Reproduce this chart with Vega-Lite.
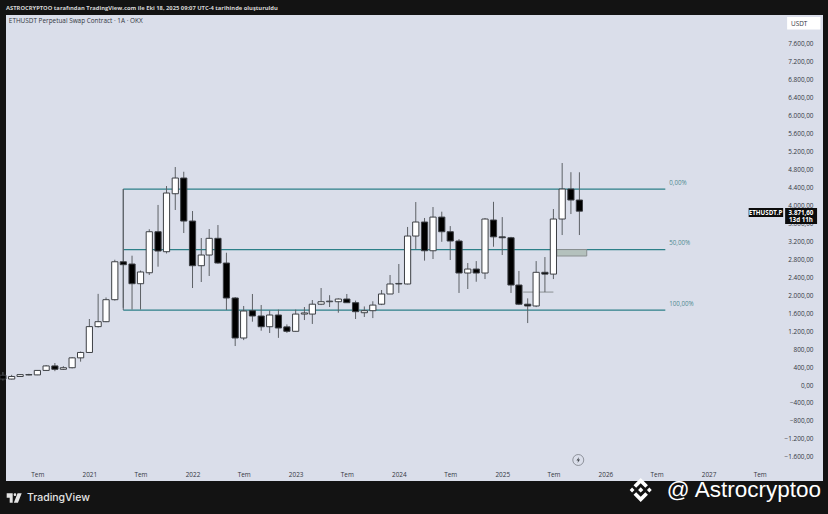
{
  "$schema": "https://vega.github.io/schema/vega-lite/v6.json",
  "width": 817,
  "height": 466,
  "autosize": "none",
  "padding": {"left": 6, "top": 15, "right": 5, "bottom": 33},
  "background": "#131313",
  "view": {"fill": "#dadeea", "stroke": null},
  "resolve": {"axis": {"y": "independent"}},
  "title": {
    "text": "ASTROCRYPTOO tarafından TradingView.com ile Eki 18, 2025 09:07 UTC-4 tarihinde oluşturuldu",
    "anchor": "start",
    "frame": "group",
    "offset": 4,
    "font": "Open Sans",
    "fontSize": 5.8,
    "fontWeight": "bold",
    "color": "#d6d6d6"
  },
  "datasets": {
    "candles": [
      {"date": "2020-03-01", "open": 218, "high": 290, "low": 100, "close": 133},
      {"date": "2020-04-01", "open": 133, "high": 227, "low": 125, "close": 190},
      {"date": "2020-05-01", "open": 190, "high": 245, "low": 185, "close": 231},
      {"date": "2020-06-01", "open": 231, "high": 250, "low": 215, "close": 225},
      {"date": "2020-07-01", "open": 225, "high": 330, "low": 220, "close": 325},
      {"date": "2020-08-01", "open": 325, "high": 445, "low": 320, "close": 425},
      {"date": "2020-09-01", "open": 425, "high": 490, "low": 308, "close": 350},
      {"date": "2020-10-01", "open": 350, "high": 420, "low": 335, "close": 385},
      {"date": "2020-11-01", "open": 385, "high": 622, "low": 370, "close": 605},
      {"date": "2020-12-01", "open": 605, "high": 745, "low": 520, "close": 725},
      {"date": "2021-01-01", "open": 725, "high": 1470, "low": 715, "close": 1300},
      {"date": "2021-02-01", "open": 1300, "high": 2030, "low": 1280, "close": 1410},
      {"date": "2021-03-01", "open": 1410, "high": 1950, "low": 1400, "close": 1900},
      {"date": "2021-04-01", "open": 1900, "high": 2790, "low": 1880, "close": 2745},
      {"date": "2021-05-01", "open": 2745, "high": 4365, "low": 1720, "close": 2680},
      {"date": "2021-06-01", "open": 2695, "high": 2880, "low": 1680, "close": 2256},
      {"date": "2021-07-01", "open": 2256, "high": 2550, "low": 1680, "close": 2517},
      {"date": "2021-08-01", "open": 2500, "high": 3470, "low": 2450, "close": 3414},
      {"date": "2021-09-01", "open": 3414, "high": 4010, "low": 2635, "close": 2984},
      {"date": "2021-10-01", "open": 2969, "high": 4432, "low": 2930, "close": 4276},
      {"date": "2021-11-01", "open": 4260, "high": 4855, "low": 3898, "close": 4610},
      {"date": "2021-12-01", "open": 4610, "high": 4750, "low": 3385, "close": 3652},
      {"date": "2022-01-01", "open": 3652, "high": 3875, "low": 2160, "close": 2657},
      {"date": "2022-02-01", "open": 2657, "high": 3274, "low": 2294, "close": 2895},
      {"date": "2022-03-01", "open": 2895, "high": 3474, "low": 2428, "close": 3267},
      {"date": "2022-04-01", "open": 3267, "high": 3563, "low": 2700, "close": 2717},
      {"date": "2022-05-01", "open": 2717, "high": 2946, "low": 1670, "close": 1938},
      {"date": "2022-06-01", "open": 1938, "high": 1960, "low": 868, "close": 1047},
      {"date": "2022-07-01", "open": 1047, "high": 1760, "low": 1000, "close": 1648},
      {"date": "2022-08-01", "open": 1655, "high": 2027, "low": 1410, "close": 1537},
      {"date": "2022-09-01", "open": 1537, "high": 1782, "low": 1209, "close": 1298},
      {"date": "2022-10-01", "open": 1298, "high": 1660, "low": 1158, "close": 1559},
      {"date": "2022-11-01", "open": 1559, "high": 1680, "low": 1050, "close": 1270},
      {"date": "2022-12-01", "open": 1295, "high": 1350, "low": 1160, "close": 1196},
      {"date": "2023-01-01", "open": 1196, "high": 1680, "low": 1190, "close": 1580},
      {"date": "2023-02-01", "open": 1580, "high": 1737, "low": 1447, "close": 1605},
      {"date": "2023-03-01", "open": 1580, "high": 1893, "low": 1360, "close": 1800},
      {"date": "2023-04-01", "open": 1800, "high": 2160, "low": 1780, "close": 1855},
      {"date": "2023-05-01", "open": 1855, "high": 2000, "low": 1737, "close": 1868},
      {"date": "2023-06-01", "open": 1855, "high": 1930, "low": 1610, "close": 1915},
      {"date": "2023-07-01", "open": 1915, "high": 2027, "low": 1833, "close": 1833},
      {"date": "2023-08-01", "open": 1833, "high": 1880, "low": 1470, "close": 1633},
      {"date": "2023-09-01", "open": 1610, "high": 1750, "low": 1515, "close": 1655},
      {"date": "2023-10-01", "open": 1655, "high": 1865, "low": 1490, "close": 1780},
      {"date": "2023-11-01", "open": 1800, "high": 2116, "low": 1780, "close": 2027},
      {"date": "2023-12-01", "open": 2027, "high": 2450, "low": 2027, "close": 2250},
      {"date": "2024-01-01", "open": 2250, "high": 2695, "low": 2050, "close": 2262},
      {"date": "2024-02-01", "open": 2250, "high": 3520, "low": 2240, "close": 3318},
      {"date": "2024-03-01", "open": 3318, "high": 4075, "low": 3030, "close": 3630},
      {"date": "2024-04-01", "open": 3630, "high": 3720, "low": 2770, "close": 2990},
      {"date": "2024-05-01", "open": 2990, "high": 3964, "low": 2806, "close": 3740},
      {"date": "2024-06-01", "open": 3740, "high": 3860, "low": 3190, "close": 3414},
      {"date": "2024-07-01", "open": 3414, "high": 3540, "low": 2784, "close": 3207},
      {"date": "2024-08-01", "open": 3207, "high": 3250, "low": 2050, "close": 2494},
      {"date": "2024-09-01", "open": 2494, "high": 2717, "low": 2138, "close": 2583},
      {"date": "2024-10-01", "open": 2583, "high": 2760, "low": 2300, "close": 2494},
      {"date": "2024-11-01", "open": 2494, "high": 3720, "low": 2360, "close": 3697},
      {"date": "2024-12-01", "open": 3675, "high": 4080, "low": 3080, "close": 3300},
      {"date": "2025-01-01", "open": 3300, "high": 3740, "low": 2895, "close": 3280},
      {"date": "2025-02-01", "open": 3280, "high": 3300, "low": 2050, "close": 2227},
      {"date": "2025-03-01", "open": 2227, "high": 2540, "low": 1780, "close": 1800},
      {"date": "2025-04-01", "open": 1800, "high": 1930, "low": 1380, "close": 1760},
      {"date": "2025-05-01", "open": 1760, "high": 2760, "low": 1735, "close": 2510},
      {"date": "2025-06-01", "open": 2510, "high": 2850, "low": 2070, "close": 2470},
      {"date": "2025-07-01", "open": 2470, "high": 3920, "low": 2360, "close": 3697},
      {"date": "2025-08-01", "open": 3697, "high": 4944, "low": 3340, "close": 4365},
      {"date": "2025-09-01", "open": 4365, "high": 4740, "low": 3808, "close": 4120},
      {"date": "2025-10-01", "open": 4120, "high": 4738, "low": 3340, "close": 3871.6}
    ]
  },
  "encoding": {
    "x": {
      "field": "date",
      "type": "temporal",
      "title": null,
      "scale": {"type": "utc", "domain": ["2020-03-12", "2028-02-10"], "padding": 0},
      "axis": {
        "values": ["2020-07-01", "2021-01-01", "2021-07-01", "2022-01-01", "2022-07-01", "2023-01-01", "2023-07-01", "2024-01-01", "2024-07-01", "2025-01-01", "2025-07-01", "2026-01-01", "2026-07-01", "2027-01-01", "2027-07-01"],
        "labelExpr": "utcmonth(datum.value) == 0 ? utcyear(datum.value) + '' : 'Tem'",
        "orient": "bottom",
        "offset": -10,
        "labelPadding": 0,
        "labelFont": "Open Sans",
        "labelFontSize": 6.4,
        "labelColor": "#33373f",
        "labelOverlap": false,
        "domain": false,
        "ticks": false,
        "grid": false
      }
    }
  },
  "layer": [
    {
      "data": {"values": [
        {"date": "2021-05-01", "end": "2026-08-01", "price": 4365},
        {"date": "2021-05-01", "end": "2026-08-01", "price": 3015},
        {"date": "2021-05-01", "end": "2026-08-01", "price": 1670}
      ]},
      "mark": {"type": "rule", "color": "#2c7f88", "strokeWidth": 1.3},
      "encoding": {
        "x2": {"field": "end"},
        "y": {
          "field": "price",
          "type": "quantitative",
          "title": null,
          "scale": {"domain": [-2138, 8241], "nice": false, "zero": false},
          "axis": {
            "values": [-1600, -1200, -800, -400, 0, 400, 800, 1200, 1600, 2000, 2400, 2800, 3200, 3600, 4000, 4400, 4800, 5200, 5600, 6000, 6400, 6800, 7200, 7600],
            "labelExpr": "replace(replace(replace(format(datum.value, ',.2f'), /,/g, '#'), '.', ','), /#/g, '.')",
            "orient": "right",
            "offset": -10,
            "labelPadding": 0,
            "labelAlign": "right",
            "labelFont": "Open Sans",
            "labelFontSize": 6.4,
            "labelColor": "#33373f",
            "labelOverlap": false,
            "domain": false,
            "ticks": false,
            "grid": false
          }
        }
      }
    },
    {
      "data": {"values": [{"date": "2021-05-01", "low": 1670, "high": 4365}]},
      "mark": {"type": "rule", "color": "#56606a", "strokeWidth": 1},
      "encoding": {
        "y": {"field": "low", "type": "quantitative", "axis": null},
        "y2": {"field": "high"}
      }
    },
    {
      "data": {"values": [{"date": "2025-03-16", "end": "2025-07-01", "price": 2070}]},
      "mark": {"type": "rule", "color": "#8b9094", "strokeWidth": 1},
      "encoding": {
        "x2": {"field": "end"},
        "y": {"field": "price", "type": "quantitative", "axis": null}
      }
    },
    {
      "data": {"values": [{"date": "2025-07-13", "end": "2025-10-27", "low": 2873, "high": 3017}]},
      "mark": {"type": "rect", "fill": "#b4c1bd", "stroke": "#8a8f90", "strokeWidth": 1},
      "encoding": {
        "x2": {"field": "end"},
        "y": {"field": "low", "type": "quantitative", "axis": null},
        "y2": {"field": "high"}
      }
    },
    {
      "data": {"name": "candles"},
      "mark": {"type": "rule", "color": "#5d6166", "strokeWidth": 1},
      "encoding": {
        "y": {"field": "low", "type": "quantitative", "axis": null},
        "y2": {"field": "high"}
      }
    },
    {
      "data": {"name": "candles"},
      "mark": {"type": "bar", "size": 6.2, "stroke": "#3c3f44", "strokeWidth": 1},
      "encoding": {
        "y": {"field": "open", "type": "quantitative", "axis": null},
        "y2": {"field": "close"},
        "fill": {
          "condition": {"test": "datum.close >= datum.open", "value": "#ffffff"},
          "value": "#000000"
        }
      }
    },
    {
      "data": {"values": [
        {"date": "2026-08-15", "price": 4500, "label": "0,00%"},
        {"date": "2026-08-15", "price": 3165, "label": "50,00%"},
        {"date": "2026-08-15", "price": 1800, "label": "100,00%"}
      ]},
      "mark": {"type": "text", "align": "left", "font": "Open Sans", "fontSize": 6.2, "color": "#4f8a90"},
      "encoding": {
        "y": {"field": "price", "type": "quantitative", "axis": null},
        "text": {"field": "label"}
      }
    },
    {
      "data": {"values": [
        {"date": "2027-05-23", "end": "2027-09-22", "low": 3742, "high": 3942},
        {"date": "2027-09-29", "end": "2028-01-20", "low": 3586, "high": 3942}
      ]},
      "mark": {"type": "rect", "fill": "#0c0c0c"},
      "encoding": {
        "x2": {"field": "end"},
        "y": {"field": "low", "type": "quantitative", "axis": null},
        "y2": {"field": "high"}
      }
    },
    {
      "data": {"values": [
        {"date": "2027-10-06", "end": "2028-02-01", "low": 7918, "high": 8196}
      ]},
      "mark": {"type": "rect", "fill": "#ffffff"},
      "encoding": {
        "x2": {"field": "end"},
        "y": {"field": "low", "type": "quantitative", "axis": null},
        "y2": {"field": "high"}
      }
    },
    {
      "data": {"values": [
        {"date": "2027-07-22", "price": 3842, "label": "ETHUSDT.P"},
        {"date": "2027-11-24", "price": 3842, "label": "3.871,60"},
        {"date": "2027-11-24", "price": 3675, "label": "13d 11h"}
      ]},
      "mark": {"type": "text", "font": "Open Sans", "fontSize": 6.2, "fontWeight": "bold", "color": "#ffffff"},
      "encoding": {
        "y": {"field": "price", "type": "quantitative", "axis": null},
        "text": {"field": "label"}
      }
    },
    {
      "data": {"values": [
        {"date": "2020-03-22", "price": 8105, "label": "ETHUSDT Perpetual Swap Contract · 1A · OKX"},
        {"date": "2027-10-20", "price": 8050, "label": "USDT"}
      ]},
      "mark": {"type": "text", "align": "left", "font": "Open Sans", "fontSize": 6.4, "color": "#33373f"},
      "encoding": {
        "y": {"field": "price", "type": "quantitative", "axis": null},
        "text": {"field": "label"}
      }
    },
    {
      "data": {"values": [{"date": "2025-09-27", "price": -1670}]},
      "mark": {"type": "point", "shape": "circle", "size": 120, "filled": false, "stroke": "#55595f", "strokeWidth": 0.8},
      "encoding": {"y": {"field": "price", "type": "quantitative", "axis": null}}
    },
    {
      "data": {"values": [{"date": "2025-09-27", "price": -1670}]},
      "mark": {"type": "point", "shape": "M0.25,-1 L-0.6,0.15 L-0.05,0.15 L-0.25,1 L0.6,-0.2 L0.05,-0.2 Z", "size": 36, "filled": true, "fill": "#44484e", "opacity": 1},
      "encoding": {"y": {"field": "price", "type": "quantitative", "axis": null}}
    },
    {
      "data": {"values": [{"date": "2020-04-10", "price": -2517}]},
      "mark": {"type": "point", "shape": "M-1,-0.62 H-0.2 V0.62 H-0.6 V-0.05 H-1 Z M0.45,-0.62 H1 L0.5,0.62 H-0.05 Z M0.1,-0.62 A0.17,0.17 0 1 1 0.0999,-0.62 Z", "size": 225, "filled": true, "fill": "#e4e4e4", "opacity": 1},
      "encoding": {"y": {"field": "price", "type": "quantitative", "axis": null}}
    },
    {
      "data": {"values": [{"date": "2020-05-25", "price": -2517, "label": "TradingView"}]},
      "mark": {"type": "text", "align": "left", "font": "Inter", "fontSize": 10.5, "fontWeight": 500, "color": "#e4e4e4"},
      "encoding": {
        "y": {"field": "price", "type": "quantitative", "axis": null},
        "text": {"field": "label"}
      }
    },
    {
      "data": {"values": [{"date": "2026-05-06", "price": -2338}]},
      "mark": {"type": "point", "shape": "M0,-1 L0.6,-0.4 L0.38,-0.18 L0,-0.56 L-0.38,-0.18 L-0.6,-0.4 Z M0,1 L0.6,0.4 L0.38,0.18 L0,0.56 L-0.38,0.18 L-0.6,0.4 Z M0,-0.22 L0.22,0 L0,0.22 L-0.22,0 Z M-0.72,-0.2 L-0.52,0 L-0.72,0.2 L-0.92,0 Z M0.72,-0.2 L0.92,0 L0.72,0.2 L0.52,0 Z", "size": 576, "filled": true, "fill": "#ffffff", "opacity": 1},
      "encoding": {"y": {"field": "price", "type": "quantitative", "axis": null}}
    },
    {
      "data": {"values": [{"date": "2028-02-03", "price": -2338, "label": "@ Astrocryptoo"}]},
      "mark": {"type": "text", "align": "right", "font": "Liberation Sans", "fontSize": 22.5, "color": "#ffffff"},
      "encoding": {
        "y": {"field": "price", "type": "quantitative", "axis": null},
        "text": {"field": "label"}
      }
    }
  ]
}
